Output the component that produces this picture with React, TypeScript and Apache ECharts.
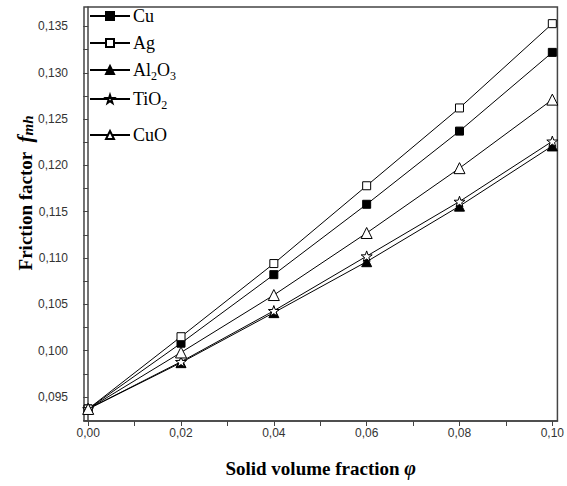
import React, { useEffect, useRef } from "react";
import * as echarts from "echarts";

const phi = [0, 0.02, 0.04, 0.06, 0.08, 0.1];
const cu = [0.0937, 0.1008, 0.1082, 0.1158, 0.1237, 0.1322];
const ag = [0.0937, 0.1015, 0.1094, 0.1178, 0.1262, 0.1353];
const al2o3 = [0.0937, 0.0987, 0.1041, 0.1096, 0.1156, 0.1221];
const tio2 = [0.0937, 0.0988, 0.1043, 0.1102, 0.1161, 0.1226];
const cuo = [0.0937, 0.0998, 0.106, 0.1127, 0.1197, 0.1271];

const xLabelValues = [0, 0.02, 0.04, 0.06, 0.08, 0.1];
const xTickValues = [0, 0.01, 0.02, 0.03, 0.04, 0.05, 0.06, 0.07, 0.08, 0.09, 0.1];
const yLabelValues = [0.095, 0.1, 0.105, 0.11, 0.115, 0.12, 0.125, 0.13, 0.135];
const yTickValues = [0.0925, 0.095, 0.0975, 0.1, 0.1025, 0.105, 0.1075, 0.11, 0.1125, 0.115, 0.1175, 0.12, 0.1225, 0.125, 0.1275, 0.13, 0.1325, 0.135];

const STAR = "path://M10,0 L12.35,6.76 L19.51,6.91 L13.8,11.24 L15.88,18.09 L10,14 L4.12,18.09 L6.2,11.24 L0.49,6.91 L7.65,6.76 Z";

const seriesDefs = [
  { name: "Cu", data: cu, symbol: "rect", fill: "#000", size: 8, label: "{n|Cu}", top: 2 },
  { name: "Ag", data: ag, symbol: "rect", fill: "#fff", size: 8, label: "{n|Ag}", top: 29 },
  { name: "Al2O3", data: al2o3, symbol: "triangle", fill: "#000", size: 10, label: "{n|Al}{s|2}{n|O}{s|3}", top: 56 },
  { name: "TiO2", data: tio2, symbol: STAR, fill: "#fff", size: 11, label: "{n|TiO}{s|2}", top: 85 },
  { name: "CuO", data: cuo, symbol: "triangle", fill: "#fff", size: 11, label: "{n|CuO}", top: 121 },
];

export default function App() {
  const ref = useRef<HTMLDivElement>(null);
  useEffect(() => {
    if (!ref.current) return;
    const chart = echarts.init(ref.current, null, { renderer: "svg" });
    const axisColor = "#444";
    const labelStyle = { fontFamily: "Liberation Sans", fontSize: 12, color: "#333" };
    const legendRich = {
      n: { fontFamily: "Liberation Serif", fontSize: 18, color: "#000", lineHeight: 20 },
      s: { fontFamily: "Liberation Serif", fontSize: 12, color: "#000", padding: [12, 0, 0, 0] },
    };
    chart.setOption({
      animation: false,
      backgroundColor: "#fff",
      grid: {
        left: 84,
        right: 9,
        top: 7,
        bottom: 65,
        show: true,
        borderColor: axisColor,
        borderWidth: 1.5,
      },
      xAxis: {
        type: "value",
        min: -0.0009,
        max: 0.1011,
        axisLine: { show: true, lineStyle: { color: axisColor, width: 1.5 } },
        axisTick: { show: true, length: 5, customValues: xTickValues, lineStyle: { color: axisColor } },
        axisLabel: {
          ...labelStyle,
          margin: 6,
          customValues: xLabelValues,
          formatter: (v: number) => v.toFixed(2).replace(".", ","),
        },
        splitLine: { show: false },
        name: "{t|Solid volume fraction }{p|φ}",
        nameLocation: "middle",
        nameGap: 37,
        nameTextStyle: {
          rich: {
            t: { fontFamily: "Liberation Serif", fontWeight: "bold", fontSize: 19, color: "#000" },
            p: { fontFamily: "Liberation Serif", fontWeight: "bold", fontStyle: "italic", fontSize: 20, color: "#000" },
          },
        },
      },
      yAxis: {
        type: "value",
        min: 0.0924,
        max: 0.1371,
        axisLine: { show: true, lineStyle: { color: axisColor, width: 1.5 } },
        axisTick: { show: true, length: 5, customValues: yTickValues, lineStyle: { color: axisColor } },
        axisLabel: {
          ...labelStyle,
          margin: 16,
          customValues: yLabelValues,
          formatter: (v: number) => v.toFixed(3).replace(".", ","),
        },
        splitLine: { show: false },
      },
      graphic: [
        {
          type: "text",
          x: 25,
          y: 193,
          rotation: Math.PI / 2,
          style: {
            text: "{t|Friction factor  }{f|f}{s|mh}",
            align: "center",
            verticalAlign: "middle",
            rich: {
              t: { fontFamily: "Liberation Serif", fontWeight: "bold", fontSize: 19, fill: "#000" },
              f: { fontFamily: "Liberation Serif", fontWeight: "bold", fontStyle: "italic", fontSize: 21, fill: "#000" },
              s: { fontFamily: "Liberation Serif", fontWeight: "bold", fontStyle: "italic", fontSize: 15, fill: "#000", padding: [6, 0, 0, 0] },
            },
          },
        },
      ],
      legend: seriesDefs.map((d) => ({
        data: [d.name],
        left: 84,
        top: d.top,
        itemWidth: 40,
        itemHeight: 10,
        itemGap: 4,
        formatter: () => d.label,
        textStyle: { rich: legendRich, padding: [0, 0, 0, -2] },
      })),
      series: seriesDefs.map((d) => ({
        name: d.name,
        type: "line",
        data: phi.map((x, i) => [x, d.data[i]]),
        symbol: d.symbol,
        symbolSize: d.size,
        symbolKeepAspect: true,
        showSymbol: true,
        lineStyle: { color: "#000", width: 1 },
        itemStyle: { color: d.fill, borderColor: "#000", borderWidth: 1 },
        emphasis: { disabled: true },
        z: 3,
      })),
    });
    return () => chart.dispose();
  }, []);
  return <div ref={ref} style={{ position: "fixed", left: 0, top: 0, width: 567, height: 486 }} />;
}
